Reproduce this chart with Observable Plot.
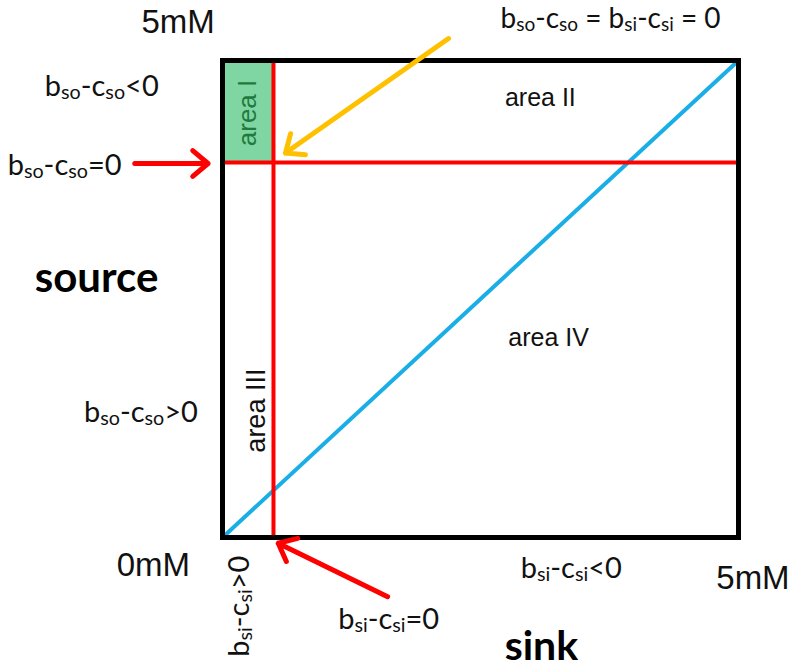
<!DOCTYPE html>
<html>
<head>
<meta charset="utf-8">
<script src="https://cdn.jsdelivr.net/npm/d3@7"></script>
<script src="https://cdn.jsdelivr.net/npm/@observablehq/plot@0.6"></script>
<style>
  html, body { margin: 0; padding: 0; background: #fff; }
  #chart svg { display: block; overflow: visible; }
</style>
</head>
<body>
<div id="chart"></div>
<script>
// Concentration axes (mM)
const concDomain = [0, 5];
// Thresholds where b - c = 0
const sinkThreshold = 0.494;   // b_si - c_si = 0 (x, sink)
const sourceThreshold = 3.93;  // b_so - c_so = 0 (y, source)

// Diagonal: b_so - c_so = b_si - c_si
const diagX = [0, 5];
const diagY = [0, 5];

// Area labels (inside plot)
const areaNames = ["area I", "area II", "area III", "area IV"];
const areaX = [0.245, 3.08, 0.33, 3.16];
const areaY = [4.45, 4.61, 1.33, 2.09];
const areaRotate = [-90, 0, -90, 0];
const areaColor = ["#1f7a3e", "#111", "#111", "#111"];
const areaSize = [26, 25, 27, 25];

// Condition labels (outside plot), "_xx" = subscript
const condLabels = ["b_so-c_so<0", "b_so-c_so=0", "b_so-c_so>0", "b_si-c_si>0", "b_si-c_si=0", "b_si-c_si<0", "b_so-c_so = b_si-c_si = 0"];
const condX = [-1.17, -1.53, -0.79, 0.17, 1.61, 3.38, 3.76];
const condY = [4.72, 3.90, 1.31, -0.72, -0.86, -0.33, 5.43];
const condRotate = [0, 0, 0, -90, 0, 0, 0];
const condSize = [29, 29, 29, 29, 29, 29, 28];

// Range tick labels
const rangeLabels = ["5mM", "0mM", "5mM"];
const rangeX = [-0.43, -0.67, 5.14];
const rangeY = [5.40, -0.29, -0.43];

// Axis titles
const titleLabels = ["source", "sink"];
const titleX = [-1.22, 3.09];
const titleY = [2.71, -1.15];
const titleSize = [42, 41];

// Arrows
const arrowX1 = [2.19, -0.85, 1.60];
const arrowY1 = [5.23, 3.92, -0.62];
const arrowX2 = [0.61, -0.14, 0.54];
const arrowY2 = [4.03, 3.92, -0.06];
const arrowColor = ["#ffc000", "#ff0000", "#ff0000"];

const areas = areaNames.map((t, i) => ({t, x: areaX[i], y: areaY[i], r: areaRotate[i], c: areaColor[i], s: areaSize[i]}));
const conds = condLabels.map((t, i) => ({t, x: condX[i], y: condY[i], r: condRotate[i], s: condSize[i]}));
const ranges = rangeLabels.map((t, i) => ({t, x: rangeX[i], y: rangeY[i]}));
const titles = titleLabels.map((t, i) => ({t, x: titleX[i], y: titleY[i], s: titleSize[i]}));
const arrows = arrowX1.map((d, i) => ({x1: d, y1: arrowY1[i], x2: arrowX2[i], y2: arrowY2[i], c: arrowColor[i]}));

const calibriLike = "Lato, 'Open Sans', sans-serif";
const arialLike = "'Liberation Sans', Arial, sans-serif";

const plot = Plot.plot({
  width: 792,
  height: 671,
  marginLeft: 222,
  marginRight: 54,
  marginTop: 60,
  marginBottom: 134,
  x: {domain: concDomain, axis: null},
  y: {domain: concDomain, axis: null},
  style: {background: "#fff", overflow: "visible"},
  marks: [
    Plot.rect([0], {x1: concDomain[0], x2: sinkThreshold, y1: sourceThreshold, y2: concDomain[1], fill: "#80d6a2", stroke: "#5fae80", strokeWidth: 1}),
    Plot.line(diagX.map((x, i) => ({x, y: diagY[i]})), {x: "x", y: "y", stroke: "#1aaee6", strokeWidth: 4}),
    Plot.ruleX([sinkThreshold], {y1: concDomain[0], y2: concDomain[1], stroke: "#ff0000", strokeWidth: 4}),
    Plot.ruleY([sourceThreshold], {x1: concDomain[0], x2: concDomain[1], stroke: "#ff0000", strokeWidth: 4}),
    Plot.frame({stroke: "#000", strokeWidth: 5}),
    Plot.arrow(arrows, {x1: "x1", y1: "y1", x2: "x2", y2: "y2", stroke: "c", strokeWidth: 5, headLength: 6, headAngle: 80}),
    Plot.text(areas, {x: "x", y: "y", text: "t", rotate: "r", fill: "c", fontSize: "s", fontFamily: arialLike}),
    Plot.text(conds, {x: "x", y: "y", text: "t", rotate: "r", fontSize: "s", fontFamily: calibriLike, fill: "#111"}),
    Plot.text(ranges, {x: "x", y: "y", text: "t", fontSize: 33, fontFamily: arialLike, fill: "#111"}),
    Plot.text(titles, {x: "x", y: "y", text: "t", fontSize: "s", fontWeight: "bold", fontFamily: calibriLike, fill: "#000"})
  ]
});

// Turn "_xx" into real subscripts (tspans)
d3.select(plot).selectAll("text").each(function () {
  const el = this;
  const raw = el.textContent;
  if (!raw.includes("_")) return;
  const parts = raw.split(/_([a-z]+)/);
  while (el.firstChild) el.removeChild(el.firstChild);
  let lowered = false;
  parts.forEach((p, i) => {
    if (!p) return;
    const ts = document.createElementNS("http://www.w3.org/2000/svg", "tspan");
    ts.textContent = p;
    if (i % 2 === 1) {
      ts.setAttribute("font-size", "68%");
      if (!lowered) { ts.setAttribute("dy", "3"); lowered = true; }
    } else if (lowered) {
      ts.setAttribute("dy", "-3");
      lowered = false;
    }
    el.appendChild(ts);
  });
});

document.getElementById("chart").appendChild(plot);
</script>
</body>
</html>
